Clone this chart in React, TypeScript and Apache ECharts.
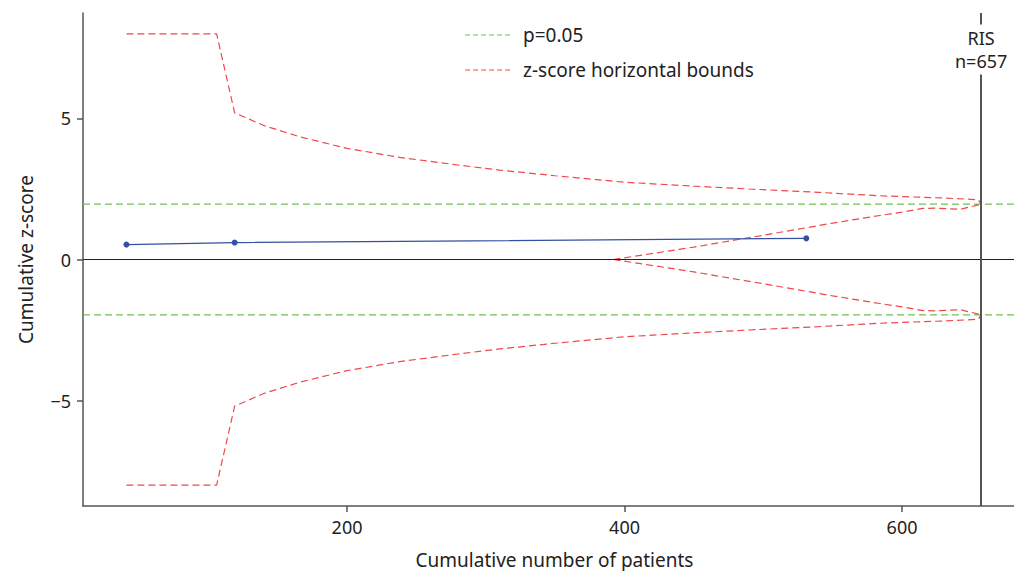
import React, { useEffect, useRef } from "react";
import * as echarts from "echarts";

const xTicks = [200, 400, 600];
const yTicks = [-5, 0, 5];

const obsX = [41, 119, 531];
const obsZ = [0.53, 0.6, 0.75];

const outerX = [41, 106, 119, 140, 166, 200, 238, 280, 310, 350, 400, 450, 490, 540, 584, 600, 630, 655, 657];
const outerZ = [8, 8, 5.2, 4.75, 4.35, 3.94, 3.62, 3.35, 3.17, 2.97, 2.74, 2.6, 2.5, 2.38, 2.26, 2.23, 2.18, 2.12, 1.96];

const innerX = [392, 450, 500, 550, 584, 600, 615, 625, 642, 657];
const innerZ = [0, 0.44, 0.86, 1.29, 1.56, 1.68, 1.81, 1.82, 1.78, 1.96];

const pLevel = 1.96;
const risN = 657;
const risLabel = "RIS\nn=" + risN;

const legendNames = ["p=0.05", "z-score horizontal bounds"];

const xMin = 9.7;
const xMax = 680.7;
const yMin = -8.74;
const yMax = 8.74;

const FONT = "Noto Sans";
const RED = "#f0474a";
const GREEN = "#72c050";
const BLUE = "#3550a3";

export default function App() {
  const ref = useRef<HTMLDivElement>(null);
  useEffect(() => {
    document.body.style.margin = "0";
    const chart = echarts.init(ref.current!, null, { renderer: "svg" });
    const pair = (xs: number[], ys: number[], s = 1) => xs.map((x, i) => [x, ys[i] * s]);
    const redStyle = { color: RED, width: 1.2, type: [7, 4] as any };
    const greenStyle = { color: GREEN, width: 1.2, type: [7, 4] as any };
    const [P, BOUNDS] = legendNames;
    const bound = (data: number[][]) => ({
      type: "line",
      name: BOUNDS,
      data,
      symbol: "none",
      color: RED,
      lineStyle: { ...redStyle },
      itemStyle: { color: RED },
      z: 3,
    });
    const pline = (y: number) => ({
      type: "line",
      name: P,
      data: [[xMin, y], [xMax, y]],
      symbol: "none",
      color: GREEN,
      lineStyle: { ...greenStyle },
      itemStyle: { color: GREEN },
      z: 2,
    });
    const legendColors = [GREEN, RED];
    const legendGraphic: any[] = [];
    legendNames.forEach((name, i) => {
      const y = 35 + i * 35;
      legendGraphic.push({
        type: "line",
        shape: { x1: 465, y1: y, x2: 510, y2: y },
        style: { stroke: legendColors[i], lineWidth: 1.2, lineDash: [5, 3] },
        silent: true,
      });
      legendGraphic.push({
        type: "text",
        x: 523,
        y,
        style: {
          text: name,
          fontSize: 19,
          fontFamily: FONT,
          fill: "#222",
          verticalAlign: "middle",
          align: "left",
        },
        silent: true,
      });
    });
    chart.setOption({
      animation: false,
      textStyle: { fontFamily: FONT },
      grid: { left: 83, right: 0, top: 13, bottom: 65, containLabel: false, outerBoundsMode: "none" },
      graphic: legendGraphic,
      xAxis: {
        type: "value",
        min: xMin,
        max: xMax,
        name: "Cumulative number of patients",
        nameLocation: "middle",
        nameGap: 44,
        nameTextStyle: { fontSize: 19, color: "#222", padding: [0, 0, 0, 12] },
        axisLine: { onZero: false, lineStyle: { color: "#555", width: 1.5 } },
        axisTick: { customValues: xTicks, length: 6, lineStyle: { color: "#555", width: 1.5 } },
        axisLabel: { customValues: xTicks, fontSize: 18, color: "#222", margin: 12 },
        splitLine: { show: false },
      },
      yAxis: {
        type: "value",
        min: yMin,
        max: yMax,
        name: "Cumulative z-score",
        nameLocation: "middle",
        nameGap: 48,
        nameTextStyle: { fontSize: 19, color: "#222" },
        axisLine: { onZero: false, lineStyle: { color: "#555", width: 1.5 } },
        axisTick: { customValues: yTicks, length: 6, lineStyle: { color: "#555", width: 1.5 } },
        axisLabel: {
          customValues: yTicks,
          fontSize: 18,
          color: "#222",
          margin: 12,
          formatter: (v: number) => String(v).replace("-", "\u2212"),
        },
        splitLine: { show: false },
      },
      series: [
        {
          type: "line",
          name: "_ref",
          data: [],
          silent: true,
          markLine: {
            symbol: "none",
            silent: true,
            label: { show: false },
            data: [
              { yAxis: 0, lineStyle: { color: "#222", width: 1.2, type: "solid" } },
              { xAxis: risN, lineStyle: { color: "#555", width: 2, type: "solid" } },
            ],
          },
          z: 1,
        },
        pline(pLevel),
        pline(-pLevel),
        bound(pair(outerX, outerZ)),
        bound(pair(outerX, outerZ, -1)),
        bound(pair(innerX, innerZ)),
        bound(pair(innerX, innerZ, -1)),
        {
          type: "line",
          name: "observed",
          data: pair(obsX, obsZ),
          symbol: "circle",
          symbolSize: 6,
          lineStyle: { color: BLUE, width: 1.3 },
          itemStyle: { color: BLUE },
          z: 4,
        },
        {
          type: "scatter",
          name: "_ris",
          data: [[risN, 7.45]],
          symbolSize: 0,
          silent: true,
          itemStyle: { opacity: 1 },
          label: {
            show: true,
            position: "inside",
            formatter: risLabel,
            fontSize: 18,
            lineHeight: 23,
            color: "#222",
            opacity: 1,
            backgroundColor: "#fff",
            padding: [2, 0],
          },
          z: 5,
        },
      ],
    });
    return () => chart.dispose();
  }, []);
  return <div ref={ref} style={{ width: 1014, height: 571 }} />;
}
